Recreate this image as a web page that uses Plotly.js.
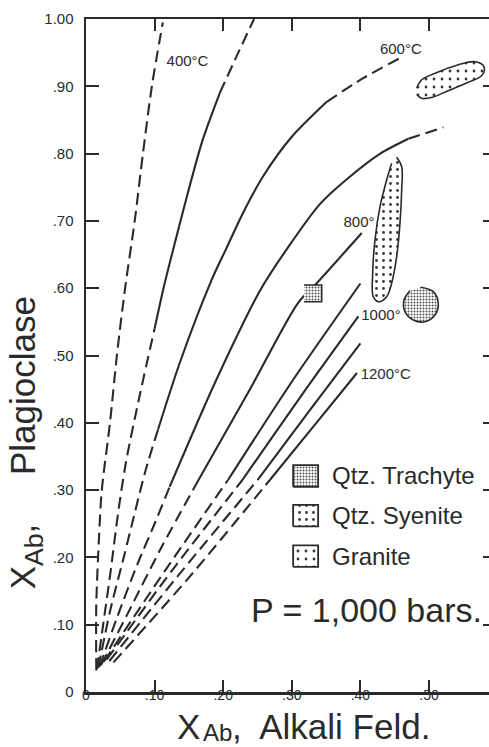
<!DOCTYPE html>
<html>
<head>
<meta charset="utf-8">
<script src="https://cdn.plot.ly/plotly-3.0.1.min.js"></script>
<style>
  html, body { margin: 0; padding: 0; background: #ffffff; overflow: hidden; }
  #chart { width: 489px; height: 747px; }
</style>
</head>
<body>
<div id="chart"></div>
<script>
// ---------------- DATA ----------------
const isothermNames = ['400°C', '500°C', '600°C', '700°C', '800°C', '900°C', '1000°C', '1100°C', '1200°C'];

const x400 = [0.015, 0.015, 0.019, 0.023, 0.035, 0.045, 0.057, 0.071, 0.083, 0.096, 0.112];
const y400 = [0.032, 0.13, 0.23, 0.30, 0.40, 0.50, 0.60, 0.70, 0.80, 0.90, 0.995];

const x500 = [0.016, 0.025, 0.036, 0.046, 0.058, 0.079, 0.100, 0.113, 0.127, 0.147, 0.170, 0.195, 0.222, 0.245];
const y500 = [0.034, 0.10, 0.18, 0.26, 0.34, 0.444, 0.54, 0.60, 0.657, 0.736, 0.82, 0.89, 0.95, 1.0];

const x600 = [0.018, 0.035, 0.055, 0.072, 0.087, 0.105, 0.137, 0.183, 0.205, 0.228, 0.258, 0.300, 0.351, 0.404, 0.458];
const y600 = [0.036, 0.12, 0.20, 0.27, 0.33, 0.39, 0.49, 0.612, 0.66, 0.71, 0.766, 0.825, 0.877, 0.912, 0.942];

const x700 = [0.020, 0.045, 0.075, 0.100, 0.122, 0.190, 0.254, 0.292, 0.341, 0.385, 0.429, 0.470, 0.521];
const y700 = [0.038, 0.11, 0.19, 0.25, 0.305, 0.464, 0.597, 0.657, 0.725, 0.766, 0.800, 0.822, 0.839];

const x800 = [0.022, 0.060, 0.110, 0.164, 0.237, 0.309, 0.336, 0.402];
const y800 = [0.040, 0.115, 0.215, 0.315, 0.446, 0.578, 0.607, 0.682];

const x900 = [0.026, 0.115, 0.207, 0.302, 0.400];
const y900 = [0.045, 0.18, 0.315, 0.464, 0.607];

const x1000 = [0.030, 0.125, 0.228, 0.313, 0.397];
const y1000 = [0.048, 0.18, 0.315, 0.439, 0.558];

const x1100 = [0.034, 0.140, 0.250, 0.325, 0.400];
const y1100 = [0.046, 0.18, 0.315, 0.417, 0.518];

const x1200 = [0.040, 0.150, 0.268, 0.332, 0.395];
const y1200 = [0.044, 0.17, 0.315, 0.395, 0.474];

// isotherm labels
const labelText = ['400°C', '600°C', '800°', '1000°', '1200°C'];
const labelX = [0.148, 0.459, 0.398, 0.430, 0.437];
const labelY = [0.936, 0.954, 0.696, 0.559, 0.470];

// rock samples (outlines)
const rockNames = ['Qtz. Trachyte', 'Qtz. Syenite', 'Granite'];

const trachyteSqX = [0.3178, 0.3436, 0.3436, 0.3178];
const trachyteSqY = [0.5799, 0.5799, 0.6048, 0.6048];

const trachyteCircX = [0.4879, 0.5063, 0.5136, 0.5087, 0.4942, 0.4771, 0.4650, 0.4636, 0.4723];
const trachyteCircY = [0.6013, 0.5948, 0.5776, 0.5602, 0.5502, 0.5527, 0.5651, 0.5825, 0.5963];

const syeniteX = [0.4529, 0.4602, 0.4602, 0.4577, 0.4529, 0.4456, 0.4383, 0.4261, 0.4188, 0.4179, 0.4213, 0.4286, 0.4383, 0.4456];
const syeniteY = [0.7945, 0.7805, 0.7459, 0.6964, 0.6468, 0.6073, 0.5874, 0.5800, 0.5874, 0.6221, 0.6716, 0.7211, 0.7608, 0.7856];

const graniteX = [0.4821, 0.4890, 0.5143, 0.5419, 0.5649, 0.5787, 0.5809, 0.5764, 0.5557, 0.5280, 0.5050, 0.4890, 0.4821];
const graniteY = [0.8970, 0.9094, 0.9217, 0.9316, 0.9366, 0.9316, 0.9242, 0.9153, 0.9054, 0.8935, 0.8837, 0.8822, 0.8881];

// ticks
const xTickVals = [0, 0.1, 0.2, 0.3, 0.4, 0.5];
const xTickText = ['0', '.10', '.20', '.30', '.40', '.50'];
const yTickVals = [0, 0.1, 0.2, 0.3, 0.4, 0.5, 0.6, 0.7, 0.8, 0.9, 1.0];
const yTickText = ['0', '.10', '.20', '.30', '.40', '.50', '.60', '.70', '.80', '.90', '1.00'];
const rightTickVals = [0.1, 0.2, 0.3, 0.4, 0.5, 0.6, 0.7, 0.8, 0.9];

const pressureNote = 'P = 1,000 bars.';
// x-axis title pieces: "X", subscript "Ab", ", Alkali Feld."
const xTitleParts = ['X', 'Ab', ',\u00a0 Alkali Feld.'];
const yTitle = '<span style="font-size:35px">X</span><sub>Ab</sub><span style="font-size:35px">,\u00a0\u00a0\u00a0\u00a0 Plagioclase</span>';

// ---------------- STYLE ----------------
const INK = '#2a2a2a';
const FONT = 'Liberation Sans, Arial, sans-serif';
const DASH = '12px,6px';

// which point indices of each isotherm are drawn solid (rest dashed)
const solidSpan = {
  '400°C': null,
  '500°C': [6, 11],
  '600°C': [5, 12],
  '700°C': [4, 11],
  '800°C': [3, 7],
  '900°C': [2, 4],
  '1000°C': [2, 4],
  '1100°C': [2, 4],
  '1200°C': [2, 4]
};

const patterns = {
  'Qtz. Trachyte': { shape: '.', size: 3, solidity: 0.35, fgcolor: '#505050', bgcolor: '#ffffff' },
  'Qtz. Syenite':  { shape: '.', size: 7, solidity: 0.13, fgcolor: '#3a3a3a', bgcolor: '#ffffff' },
  'Granite':       { shape: '.', size: 8, solidity: 0.10, fgcolor: '#3a3a3a', bgcolor: '#ffffff' }
};

// legend box layout (paper-like coordinates of overlay axes x2/y2)
const legendLayout = { x0: 0.514, x1: 0.576, rows: [[0.305, 0.337], [0.246, 0.278], [0.186, 0.218]], textX: 0.606 };

// ---------------- BUILD ----------------
const curves = [
  [x400, y400], [x500, y500], [x600, y600], [x700, y700], [x800, y800],
  [x900, y900], [x1000, y1000], [x1100, y1100], [x1200, y1200]
];

const traces = [];
function seg(name, xs, ys, i0, i1, dash) {
  traces.push({
    type: 'scatter', mode: 'lines', name: name, hoverinfo: 'skip',
    x: xs.slice(i0, i1 + 1), y: ys.slice(i0, i1 + 1),
    line: { color: INK, width: 2.1, shape: 'spline', smoothing: 0.8, dash: dash }
  });
}
isothermNames.forEach((nm, k) => {
  const xs = curves[k][0], ys = curves[k][1];
  const n = xs.length;
  const sp = solidSpan[nm];
  if (!sp) { seg(nm, xs, ys, 0, n - 1, DASH); return; }
  if (sp[0] > 0) seg(nm, xs, ys, 0, sp[0], DASH);
  seg(nm, xs, ys, sp[0], sp[1], 'solid');
  if (sp[1] < n - 1) seg(nm, xs, ys, sp[1], n - 1, DASH);
});

traces.push({
  type: 'scatter', mode: 'text', x: labelX, y: labelY, text: labelText,
  textposition: 'middle center', hoverinfo: 'skip',
  textfont: { family: FONT, size: 15, color: INK }
});

function region(name, xs, ys, rock, smooth) {
  traces.push({
    type: 'scatter', mode: 'lines', name: name, hoverinfo: 'skip',
    x: xs, y: ys, fill: 'toself', fillpattern: patterns[rock],
    line: { color: INK, width: 1.6, shape: smooth ? 'spline' : 'linear', smoothing: 1 }
  });
}
region('Granite', graniteX, graniteY, 'Granite', true);
region('Qtz. Syenite', syeniteX, syeniteY, 'Qtz. Syenite', true);
region('Qtz. Trachyte', trachyteCircX, trachyteCircY, 'Qtz. Trachyte', true);
region('Qtz. Trachyte', trachyteSqX, trachyteSqY, 'Qtz. Trachyte', false);

// legend swatches
const annotations = [];
rockNames.forEach((nm, i) => {
  const r = legendLayout.rows[i];
  traces.push({
    type: 'scatter', mode: 'lines', xaxis: 'x2', yaxis: 'y2', hoverinfo: 'skip',
    x: [legendLayout.x0, legendLayout.x1, legendLayout.x1, legendLayout.x0, legendLayout.x0],
    y: [r[0], r[0], r[1], r[1], r[0]],
    fill: 'toself', fillpattern: patterns[nm],
    line: { color: INK, width: 1.8 }
  });
  annotations.push({
    xref: 'paper', yref: 'paper', x: legendLayout.textX, y: (r[0] + r[1]) / 2,
    xanchor: 'left', yanchor: 'middle', showarrow: false, text: nm,
    font: { family: FONT, size: 24, color: INK }
  });
});

annotations.push({
  xref: 'paper', yref: 'paper', x: 0.696, y: 0.1215, xanchor: 'center', yanchor: 'middle',
  showarrow: false, text: pressureNote, font: { family: FONT, size: 34, color: INK }
});
// x-axis title, laid out as X + subscript Ab + rest
const xTitleY = -0.0817;
annotations.push({
  xref: 'paper', yref: 'paper', x: 0.2854, y: xTitleY, xanchor: 'right', yanchor: 'bottom',
  borderpad: 0, showarrow: false, text: xTitleParts[0], font: { family: FONT, size: 35, color: INK }
});
annotations.push({
  xref: 'paper', yref: 'paper', x: 0.2878, y: xTitleY, xanchor: 'left', yanchor: 'bottom',
  borderpad: 0, showarrow: false, text: xTitleParts[1], font: { family: FONT, size: 24, color: INK }
});
annotations.push({
  xref: 'paper', yref: 'paper', x: 0.3598, y: xTitleY, xanchor: 'left', yanchor: 'bottom',
  borderpad: 0, showarrow: false, text: xTitleParts[2], font: { family: FONT, size: 35, color: INK }
});
annotations.push({
  xref: 'paper', yref: 'paper', x: -0.148, y: 0.370, xanchor: 'center', yanchor: 'middle',
  textangle: -90, showarrow: false, text: yTitle,
  font: { family: FONT, size: 38, color: INK }
});

const layout = {
  width: 489, height: 747,
  margin: { l: 86, r: 0, t: 19, b: 55, pad: 0 },
  paper_bgcolor: '#ffffff', plot_bgcolor: '#ffffff',
  showlegend: false,
  font: { family: FONT, color: INK },
  xaxis: {
    range: [0, 0.5875], tickmode: 'array', tickvals: xTickVals, ticktext: xTickText,
    ticks: 'inside', ticklen: 12, tickwidth: 2, tickcolor: INK,
    showline: true, linewidth: 2.5, linecolor: INK, mirror: 'ticks',
    showgrid: false, zeroline: false, fixedrange: true,
    tickfont: { family: FONT, size: 14, color: INK }, ticklabelstandoff: -11
  },
  yaxis: {
    range: [0, 1], tickmode: 'array', tickvals: yTickVals, ticktext: yTickText,
    ticks: 'inside', ticklen: 13, tickwidth: 2, tickcolor: INK,
    showline: true, linewidth: 2.5, linecolor: INK, mirror: false,
    showgrid: false, zeroline: false, fixedrange: true,
    tickfont: { family: FONT, size: 15, color: INK }, ticklabelstandoff: 7
  },
  xaxis2: { overlaying: 'x', anchor: 'y2', range: [0, 1], visible: false, fixedrange: true },
  yaxis2: {
    overlaying: 'y', side: 'right', anchor: 'x2', range: [0, 1],
    tickmode: 'array', tickvals: rightTickVals, ticks: 'inside', ticklen: 6, tickwidth: 2, tickcolor: INK,
    showticklabels: false, showline: false, showgrid: false, zeroline: false, fixedrange: true
  },
  annotations: annotations
};

Plotly.newPlot('chart', traces, layout, { displayModeBar: false, staticPlot: true });
</script>
</body>
</html>
